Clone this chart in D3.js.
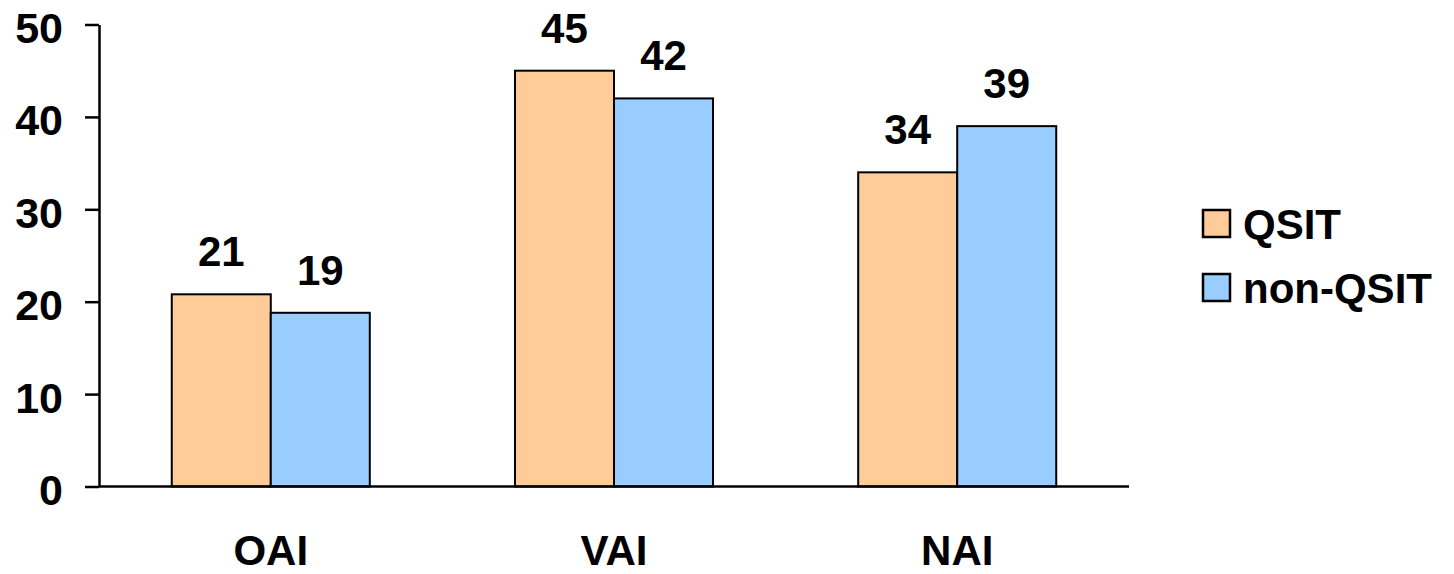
<!DOCTYPE html>
<html>
<head>
<meta charset="utf-8">
<script src="https://cdn.jsdelivr.net/npm/d3@7"></script>
<style>
  body { margin: 0; background: #fff; }
  text { font-family: Arial, "Liberation Sans", sans-serif; font-weight: bold; fill: #000; }
</style>
</head>
<body>
<div id="container"></div>
<script>
// dados
var categories = ["OAI", "VAI", "NAI"];
var seriesNames = ["QSIT", "non-QSIT"];
var qsit = [20.8, 45, 34];
var nonQsit = [18.8, 42, 39];
var yTicks = [0, 10, 20, 30, 40, 50];
var colors = ["#FFCC99", "#99CCFF"];

var width = 1454, height = 574;

var svg = d3.select("#container")
  .append("svg")
  .attr("width", width)
  .attr("height", height);

// escalas
var x0 = d3.scaleBand()
  .domain(categories)
  .range([99, 1129])
  .paddingInner(0.423)
  .paddingOuter(0.212);

var x1 = d3.scaleBand()
  .domain(seriesNames)
  .range([0, x0.bandwidth()]);

var y = d3.scaleLinear()
  .domain([0, 50])
  .range([486.5, 24.5]);

var color = d3.scaleOrdinal()
  .domain(seriesNames)
  .range(colors);

var rows = categories.map(function(c, i) {
  return { cat: c, values: [
    { key: seriesNames[0], value: qsit[i] },
    { key: seriesNames[1], value: nonQsit[i] }
  ]};
});

// barras
var groups = svg.selectAll(".grp")
  .data(rows)
  .enter().append("g")
  .attr("class", "grp")
  .attr("transform", function(d) { return "translate(" + x0(d.cat) + ",0)"; });

groups.selectAll("rect")
  .data(function(d) { return d.values; })
  .enter().append("rect")
  .attr("x", function(d) { return x1(d.key); })
  .attr("y", function(d) { return y(d.value); })
  .attr("width", x1.bandwidth())
  .attr("height", function(d) { return y(0) - y(d.value); })
  .attr("fill", function(d) { return color(d.key); })
  .attr("stroke", "#000")
  .attr("stroke-width", 2);

// rótulos de valor
groups.selectAll(".val")
  .data(function(d) { return d.values; })
  .enter().append("text")
  .attr("class", "val")
  .attr("x", function(d) { return x1(d.key) + x1.bandwidth() / 2; })
  .attr("y", function(d) { return y(d.value) - 28; })
  .attr("text-anchor", "middle")
  .attr("font-size", 42)
  .text(function(d) { return d3.format(".0f")(d.value); });

// eixo y
var yAxis = svg.append("g")
  .attr("transform", "translate(99,0)")
  .call(d3.axisLeft(y).tickValues(yTicks).tickSize(14).tickSizeOuter(0).tickPadding(22));

yAxis.select(".domain").attr("stroke", "#000").attr("stroke-width", 2.5);
yAxis.selectAll(".tick line").attr("stroke", "#000").attr("stroke-width", 2.5);
yAxis.selectAll(".tick text")
  .attr("font-size", 43)
  .attr("font-family", null)
  .attr("dy", "0.42em");

// eixo x
svg.append("line")
  .attr("x1", 99)
  .attr("x2", 1129)
  .attr("y1", y(0))
  .attr("y2", y(0))
  .attr("stroke", "#000")
  .attr("stroke-width", 2.5);

svg.selectAll(".cat")
  .data(categories)
  .enter().append("text")
  .attr("class", "cat")
  .attr("x", function(d) { return x0(d) + x0.bandwidth() / 2; })
  .attr("y", 565)
  .attr("text-anchor", "middle")
  .attr("font-size", 42)
  .text(function(d) { return d; });

// legenda
var legend = svg.selectAll(".legend")
  .data(seriesNames)
  .enter().append("g")
  .attr("class", "legend")
  .attr("transform", function(d, i) { return "translate(1203," + (210 + i * 64) + ")"; });

legend.append("rect")
  .attr("width", 27)
  .attr("height", 27)
  .attr("fill", function(d) { return color(d); })
  .attr("stroke", "#000")
  .attr("stroke-width", 2.5);

legend.append("text")
  .attr("x", 40)
  .attr("y", 13.5)
  .attr("dy", "0.36em")
  .attr("font-size", 42)
  .text(function(d) { return d; });
</script>
</body>
</html>
